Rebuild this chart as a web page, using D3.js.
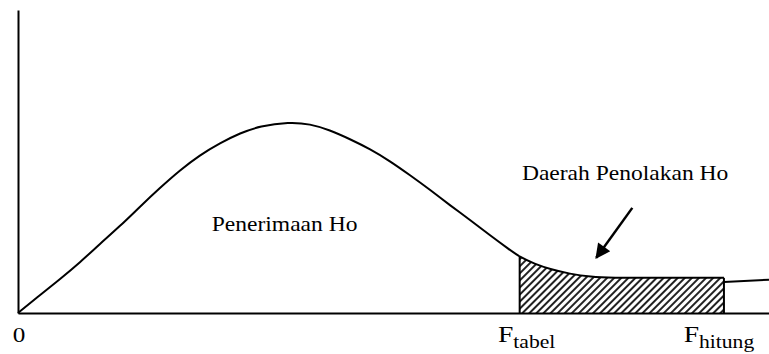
<!DOCTYPE html>
<html>
<head>
<meta charset="utf-8">
<script src="https://cdn.jsdelivr.net/npm/d3@7"></script>
<style>
  body { margin: 0; background: #fff; }
</style>
</head>
<body>
<svg id="chart"></svg>
<script>
// F distribution sketch (x in F units, y in density units)
const curveX = [0, 0.29, 0.56, 0.83, 1.09, 1.36, 1.62, 1.89, 2.16, 2.42, 2.69, 2.96, 3.22, 3.61,
    3.89, 4.15, 4.42, 4.69, 4.95, 5.22, 5.49, 5.75, 6.02, 6.28, 6.55, 6.68, 6.88, 7.08, 7.35,
    7.62, 7.92, 8.42, 8.95, 9.40];
const curveY = [0, 0.059, 0.112, 0.168, 0.228, 0.287, 0.350, 0.413, 0.472, 0.521, 0.561, 0.594,
    0.617, 0.630, 0.624, 0.604, 0.574, 0.541, 0.502, 0.455, 0.406, 0.356, 0.307, 0.257, 0.208,
    0.185, 0.162, 0.145, 0.129, 0.119, 0.116, 0.116, 0.116, 0.116];
const tailX = [9.40, 10];
const tailY = [0.102, 0.110];

const F_tabel = 6.68, F_hitung = 9.40;
const tickLabels = [
    { value: 0, main: "0", sub: "" },
    { value: F_tabel, main: "F", sub: "tabel" },
    { value: F_hitung, main: "F", sub: "hitung" }
];
const areaLabels = ["Penerimaan Ho", "Daerah Penolakan Ho"];

const serif = "'Liberation Serif', 'DejaVu Serif', serif";

const svg_width = 769, svg_height = 354;
const margin = { top: 10, right: 0, bottom: 41, left: 18 },
    width = svg_width - margin.left - margin.right,
    height = svg_height - margin.top - margin.bottom;

const root = d3.select("#chart")
    .attr("width", svg_width)
    .attr("height", svg_height);

const svg = root.append("g")
    .attr("transform", `translate(${margin.left},${margin.top})`);

const x = d3.scaleLinear().domain([0, 10]).range([0, width]);
const y = d3.scaleLinear().domain([0, 1]).range([height, 0]);

const curve = curveX.map((v, i) => ({ x: v, y: curveY[i] }));
const tail = tailX.map((v, i) => ({ x: v, y: tailY[i] }));

// hatch pattern for rejection region
const defs = root.append("defs");
defs.append("pattern")
    .attr("id", "hatch")
    .attr("patternUnits", "userSpaceOnUse")
    .attr("width", 5)
    .attr("height", 5)
    .attr("patternTransform", "rotate(45)")
    .append("rect")
    .attr("x", 0)
    .attr("y", 0)
    .attr("width", 2)
    .attr("height", 5)
    .attr("fill", "#222");

const smooth = d3.curveBasis;
const region = curve.filter(d => d.x >= F_tabel && d.x <= F_hitung);
const area = d3.area()
    .x(d => x(d.x))
    .y0(y(0))
    .y1(d => y(d.y))
    .curve(smooth);

svg.append("path")
    .datum(region)
    .attr("fill", "url(#hatch)")
    .attr("d", area);

// vertical edges of the hatched region
[F_tabel, F_hitung].forEach(f => {
    const top = region.find(d => d.x === f);
    svg.append("line")
        .attr("x1", x(f)).attr("x2", x(f))
        .attr("y1", y(0)).attr("y2", y(top.y))
        .attr("stroke", "#000")
        .attr("stroke-width", 2);
});

const line = d3.line()
    .x(d => x(d.x))
    .y(d => y(d.y))
    .curve(smooth);

svg.append("path")
    .datum(curve)
    .attr("fill", "none")
    .attr("stroke", "#000")
    .attr("stroke-width", 2)
    .attr("d", line);

svg.append("path")
    .datum(tail)
    .attr("fill", "none")
    .attr("stroke", "#000")
    .attr("stroke-width", 2)
    .attr("d", line);

// axes: bare lines, no ticks
svg.append("g")
    .attr("transform", `translate(0,${height})`)
    .call(d3.axisBottom(x).tickValues([]).tickSizeOuter(0))
    .select(".domain")
    .attr("stroke-width", 2);

svg.append("g")
    .call(d3.axisLeft(y).tickValues([]).tickSizeOuter(0))
    .select(".domain")
    .attr("stroke-width", 2);

// tick labels with subscripts (text is stretched wide in the original)
const nudge = [1, 7, -5];
const labels = svg.append("g").selectAll("text")
    .data(tickLabels)
    .enter()
    .append("text")
    .attr("transform", (d, i) => `translate(${x(d.value) + nudge[i]},${height + 29}) scale(1.2,1)`)
    .attr("text-anchor", "middle")
    .style("font-family", serif)
    .attr("fill", "#000");

labels.append("tspan")
    .attr("font-size", d => d.sub ? 23 : 21)
    .text(d => d.main);
labels.append("tspan")
    .attr("font-size", 18)
    .attr("dy", 6)
    .text(d => d.sub);

// area labels
const areaPos = [[2.58, 0.271], [6.71, 0.439]];
svg.append("g").selectAll("text")
    .data(areaLabels)
    .enter()
    .append("text")
    .attr("transform", (d, i) => `translate(${x(areaPos[i][0])},${y(areaPos[i][1])}) scale(1.07,1)`)
    .attr("font-size", 22)
    .style("font-family", serif)
    .attr("fill", "#000")
    .text(d => d);

// arrow pointing at rejection region
defs.append("marker")
    .attr("id", "head")
    .attr("viewBox", "0 0 10 10")
    .attr("refX", 9)
    .attr("refY", 5)
    .attr("markerUnits", "userSpaceOnUse")
    .attr("markerWidth", 17)
    .attr("markerHeight", 15)
    .attr("orient", "auto")
    .append("path")
    .attr("d", "M0,0L10,5L0,10Z")
    .attr("fill", "#000");

svg.append("line")
    .attr("x1", x(8.18))
    .attr("y1", y(0.347))
    .attr("x2", x(7.70))
    .attr("y2", y(0.182))
    .attr("stroke", "#000")
    .attr("stroke-width", 2.5)
    .attr("marker-end", "url(#head)");
</script>
</body>
</html>
